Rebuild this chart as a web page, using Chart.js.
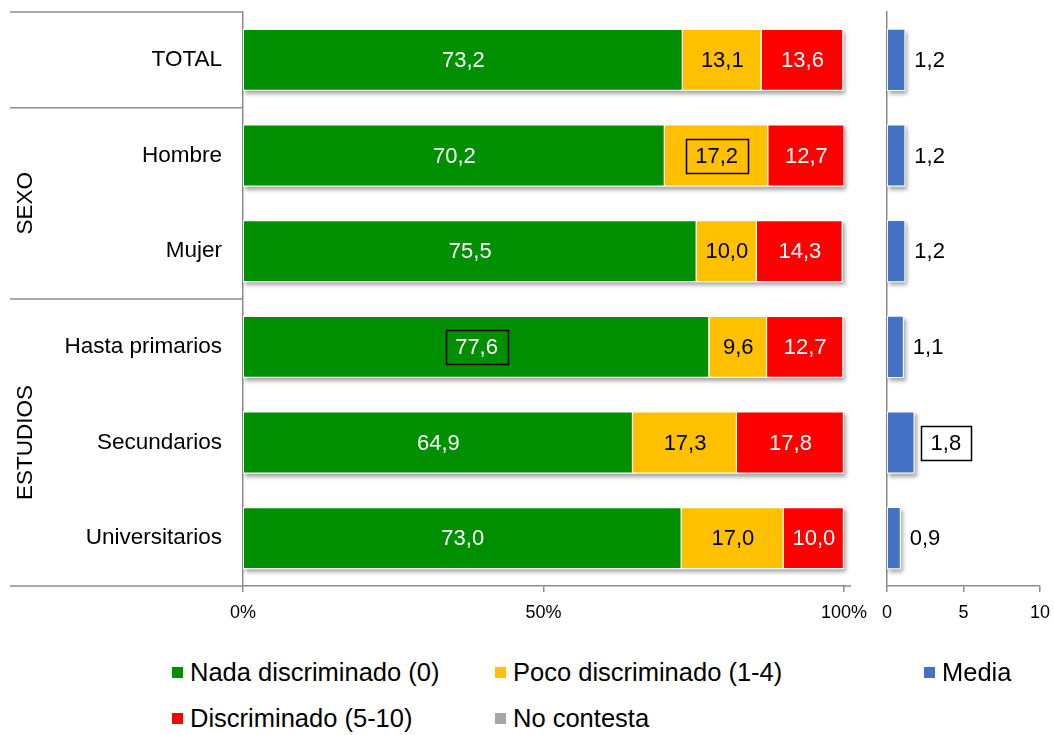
<!DOCTYPE html>
<html>
<head>
<meta charset="utf-8">
<script src="https://cdn.jsdelivr.net/npm/chart.js@4.4.1/dist/chart.umd.min.js"></script>
<style>
  body { margin: 0; background: #fff; font-family: 'Liberation Sans', Arial, sans-serif; }
  #wrap { position: relative; width: 1054px; height: 735px; overflow: hidden; }
  #main { position: absolute; left: 0; top: 0; }
  #media { position: absolute; left: 860px; top: 0; }
  .ley { position: absolute; display: flex; align-items: center; height: 28px; font-size: 25.5px; color: #000; white-space: nowrap; }
  .ley i { display: inline-block; width: 11px; height: 11px; margin-right: 7px; }
</style>
</head>
<body>
<div id="wrap">
  <canvas id="main" width="870" height="640"></canvas>
  <canvas id="media" width="194" height="640"></canvas>
  <div id="leyenda"></div>
</div>
<script>
// datos
const categorias = ['TOTAL', 'Hombre', 'Mujer', 'Hasta primarios', 'Secundarios', 'Universitarios'];
const nada = [73.2, 70.2, 75.5, 77.6, 64.9, 73.0];
const poco = [13.1, 17.2, 10.0, 9.6, 17.3, 17.0];
const discriminado = [13.6, 12.7, 14.3, 12.7, 17.8, 10.0];
const noContesta = [0, 0, 0, 0, 0, 0];
const media = [1.2, 1.2, 1.2, 1.1, 1.8, 0.9];
const ticksPct = [0, 50, 100];
const ticksMedia = [0, 5, 10];
// grupos de filas: nombre, primera, ultima
const grupos = [['', 0, 0], ['SEXO', 1, 2], ['ESTUDIOS', 3, 5]];
// valores recuadrados (serie, fila)
const destacados = [['Poco discriminado (1-4)', 1], ['Nada discriminado (0)', 3], ['Media', 4]];

const FUENTE = "'Liberation Sans', Arial, sans-serif";
const GRIS = '#8c8c8c';
const fmt = v => v.toFixed(1).replace('.', ',');
const esDestacado = (serie, i) => destacados.some(d => d[0] === serie && d[1] === i);
const sinPadding = s => { s.paddingLeft = 0; s.paddingRight = 0; s.paddingTop = 0; s.paddingBottom = 0; };

function recuadro(ctx, cx, cy, w) {
  ctx.save();
  ctx.strokeStyle = '#000';
  ctx.lineWidth = 1.5;
  ctx.strokeRect(Math.round(cx - w / 2 - 9.5) + 0.5, Math.round(cy - 17) + 0.5, Math.round(w + 19), 34);
  ctx.restore();
}

// sombra suave bajo cada barra completa
const sombra = {
  id: 'sombra',
  beforeDatasetsDraw(chart) {
    const ctx = chart.ctx;
    const x = chart.scales.x;
    const metas = chart.data.datasets.map((ds, di) => chart.getDatasetMeta(di));
    ctx.save();
    ctx.fillStyle = '#fff';
    ctx.shadowColor = 'rgba(0,0,0,0.35)';
    ctx.shadowBlur = 4;
    ctx.shadowOffsetX = 2;
    ctx.shadowOffsetY = 3;
    chart.data.labels.forEach((lab, i) => {
      let total = 0;
      chart.data.datasets.forEach(ds => { total += ds.data[i]; });
      const bar = metas[0].data[i];
      const izq = x.getPixelForValue(0);
      const der = x.getPixelForValue(Math.min(total, x.max));
      ctx.fillRect(izq, bar.y - bar.height / 2, der - izq, bar.height);
    });
    ctx.restore();
  }
};

const etiquetasBarras = {
  id: 'etiquetasBarras',
  afterDatasetsDraw(chart) {
    const ctx = chart.ctx;
    ctx.save();
    ctx.font = '22px ' + FUENTE;
    ctx.textBaseline = 'middle';
    ctx.textAlign = 'center';
    chart.data.datasets.forEach((ds, di) => {
      const meta = chart.getDatasetMeta(di);
      meta.data.forEach((bar, i) => {
        const v = ds.data[i];
        if (!v) return;
        const cx = (bar.x + bar.base) / 2;
        const txt = fmt(v);
        ctx.fillStyle = ds.textColor;
        ctx.fillText(txt, cx, bar.y + 1);
        if (esDestacado(ds.label, i)) recuadro(ctx, cx, bar.y, ctx.measureText(txt).width);
      });
    });
    ctx.restore();
  }
};

const separadores = {
  id: 'separadores',
  afterDraw(chart) {
    const ctx = chart.ctx;
    const y = chart.scales.y;
    const area = chart.chartArea;
    const banda = (y.bottom - y.top) / categorias.length;
    ctx.save();
    ctx.strokeStyle = GRIS;
    ctx.lineWidth = 1.5;
    const lineas = [y.top];
    grupos.forEach(g => lineas.push(y.top + banda * (g[2] + 1)));
    lineas.forEach(py => {
      ctx.beginPath();
      ctx.moveTo(10, py);
      ctx.lineTo(area.left, py);
      ctx.stroke();
    });
    // prolongacion del eje
    ctx.beginPath();
    ctx.moveTo(area.right, y.bottom);
    ctx.lineTo(area.right + 7, y.bottom);
    ctx.stroke();
    ctx.fillStyle = '#000';
    ctx.font = '22.5px ' + FUENTE;
    ctx.textAlign = 'center';
    ctx.textBaseline = 'middle';
    grupos.forEach(g => {
      if (!g[0]) return;
      const cy = y.top + banda * (g[1] + g[2] + 1) / 2;
      ctx.save();
      ctx.translate(25, cy);
      ctx.rotate(-Math.PI / 2);
      ctx.fillText(g[0], 0, 1);
      ctx.restore();
    });
    ctx.restore();
  }
};

new Chart(document.getElementById('main').getContext('2d'), {
  type: 'bar',
  data: {
    labels: categorias,
    datasets: [
      { label: 'Nada discriminado (0)', data: nada, backgroundColor: '#008F00', textColor: '#fff' },
      { label: 'Poco discriminado (1-4)', data: poco, backgroundColor: '#FFC000', textColor: '#000' },
      { label: 'Discriminado (5-10)', data: discriminado, backgroundColor: '#FF0000', textColor: '#fff' },
      { label: 'No contesta', data: noContesta, backgroundColor: '#A6A6A6', textColor: '#000', borderWidth: 0 }
    ]
  },
  options: {
    indexAxis: 'y',
    responsive: false,
    animation: false,
    datasets: { bar: { barPercentage: 0.65, categoryPercentage: 1, borderColor: '#fff', borderWidth: 1.2 } },
    layout: { padding: { top: 12, right: 26, left: 0, bottom: 0 } },
    plugins: { legend: { display: false }, tooltip: { enabled: false } },
    scales: {
      x: {
        stacked: true, min: 0, max: 100,
        afterBuildTicks: s => { s.ticks = ticksPct.map(v => ({ value: v })); },
        afterFit: s => { s.height = 54; sinPadding(s); },
        grid: { drawOnChartArea: false, drawTicks: true, tickLength: 6, color: GRIS, lineWidth: 1.5 },
        border: { color: GRIS, width: 1.5 },
        ticks: { callback: v => v + '%', font: { size: 18, family: FUENTE }, color: '#000', padding: 10, maxRotation: 0 }
      },
      y: {
        stacked: true,
        afterFit: s => { s.width = 243; sinPadding(s); },
        grid: { display: false, drawTicks: false },
        border: { color: GRIS, width: 1.5 },
        ticks: { font: { size: 22.5, family: FUENTE }, color: '#000', padding: 21 }
      }
    }
  },
  plugins: [sombra, etiquetasBarras, separadores]
});

const etiquetasMedia = {
  id: 'etiquetasMedia',
  afterDatasetsDraw(chart) {
    const ctx = chart.ctx;
    const meta = chart.getDatasetMeta(0);
    ctx.save();
    ctx.font = '22px ' + FUENTE;
    ctx.textBaseline = 'middle';
    ctx.textAlign = 'left';
    ctx.fillStyle = '#000';
    meta.data.forEach((bar, i) => {
      const txt = fmt(media[i]);
      const w = ctx.measureText(txt).width;
      if (esDestacado('Media', i)) {
        const tx = bar.x + 16;
        ctx.fillText(txt, tx, bar.y + 1);
        recuadro(ctx, tx + w / 2, bar.y, w);
      } else {
        ctx.fillText(txt, bar.x + 9, bar.y + 1);
      }
    });
    ctx.restore();
  }
};

new Chart(document.getElementById('media').getContext('2d'), {
  type: 'bar',
  data: {
    labels: categorias,
    datasets: [{ label: 'Media', data: media, backgroundColor: '#4472C4', borderColor: '#fff', borderWidth: 1 }]
  },
  options: {
    indexAxis: 'y',
    responsive: false,
    animation: false,
    datasets: { bar: { barPercentage: 0.65, categoryPercentage: 1 } },
    layout: { padding: { top: 12, right: 14, left: 27, bottom: 0 } },
    plugins: { legend: { display: false }, tooltip: { enabled: false } },
    scales: {
      x: {
        min: 0, max: 10,
        afterBuildTicks: s => { s.ticks = ticksMedia.map(v => ({ value: v })); },
        afterFit: s => { s.height = 54; sinPadding(s); },
        grid: { drawOnChartArea: false, drawTicks: true, tickLength: 6, color: GRIS, lineWidth: 1.5 },
        border: { color: GRIS, width: 1.5 },
        ticks: { font: { size: 18, family: FUENTE }, color: '#000', padding: 10, maxRotation: 0 }
      },
      y: {
        afterFit: s => { s.width = 0; sinPadding(s); },
        grid: { display: false, drawTicks: false },
        border: { display: true, color: GRIS, width: 1.5 },
        ticks: { display: false }
      }
    }
  },
  plugins: [sombra, etiquetasMedia]
});

// leyenda
const leyenda = [
  ['Nada discriminado (0)', '#008F00', 172, 658],
  ['Poco discriminado (1-4)', '#FFC000', 495, 658],
  ['Discriminado (5-10)', '#FF0000', 172, 704],
  ['No contesta', '#A6A6A6', 495, 704],
  ['Media', '#4472C4', 924, 658]
];
const cont = document.getElementById('leyenda');
leyenda.forEach(([txt, color, x, y]) => {
  const d = document.createElement('div');
  d.className = 'ley';
  d.style.left = x + 'px';
  d.style.top = y + 'px';
  d.innerHTML = '<i style="background:' + color + '"></i>' + txt;
  cont.appendChild(d);
});
</script>
</body>
</html>
